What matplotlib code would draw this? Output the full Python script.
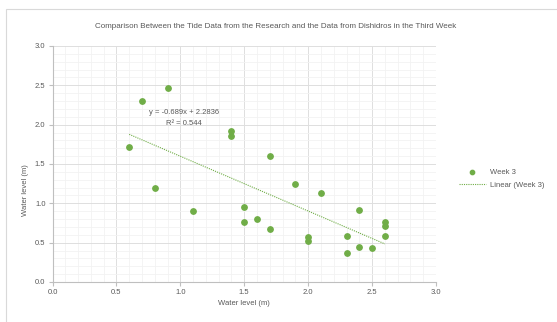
import matplotlib.pyplot as plt
import matplotlib.patches as patches
import numpy as np

plt.rcParams['font.family'] = ['Liberation Sans', 'DejaVu Sans']

x_week3 = [0.6, 0.7, 0.9, 0.8, 1.1, 1.4, 1.4, 1.5, 1.5, 1.6, 1.7, 1.7,
           1.9, 2.1, 2.0, 2.0, 2.3, 2.3, 2.4, 2.4, 2.5, 2.6, 2.6, 2.6]
y_week3 = [1.71, 2.30, 2.47, 1.20, 0.90, 1.92, 1.85, 0.95, 0.76, 0.80, 0.67, 1.60,
           1.25, 1.13, 0.57, 0.52, 0.59, 0.37, 0.92, 0.44, 0.43, 0.76, 0.71, 0.59]
eq_text = 'y = -0.689x + 2.2836'
r2_text = 'R² = 0.544'
title = ('Comparison Between the Tide Data from the Research and the Data '
         'from Dishidros in the Third Week')

green = '#70ad47'
text_gray = '#595959'

fig = plt.figure(figsize=(5.57, 3.22), dpi=100)
# chart area frame
fig.patches.append(patches.Rectangle((6 / 557, -0.05), 1.0, 1 - 9 / 322 + 0.05,
                                     transform=fig.transFigure, fill=False,
                                     edgecolor='#d9d9d9', linewidth=0.8))

ax = fig.add_axes([52.5 / 557, 40 / 322, 383.5 / 557, 236 / 322])
ax.set_xlim(0, 3)
ax.set_ylim(0, 3)
ax.set_xticks(np.arange(0, 3.01, 0.5))
ax.set_yticks(np.arange(0, 3.01, 0.5))
ax.set_xticks(np.arange(0, 3.01, 0.1), minor=True)
ax.set_yticks(np.arange(0, 3.01, 0.1), minor=True)
ax.set_xticklabels([f'{v:.1f}' for v in np.arange(0, 3.01, 0.5)])
ax.set_yticklabels([f'{v:.1f}' for v in np.arange(0, 3.01, 0.5)])
ax.grid(True, which='major', color='#dedede', linewidth=0.7)
ax.grid(True, which='minor', color='#f2f2f2', linewidth=0.6)
ax.set_axisbelow(True)
for side in ['top', 'right']:
    ax.spines[side].set_visible(False)
for side in ['left', 'bottom']:
    ax.spines[side].set_color('#bfbfbf')
    ax.spines[side].set_linewidth(0.8)
ax.tick_params(which='major', length=3, color='#bfbfbf', labelsize=5.5,
               labelcolor=text_gray, pad=2)
ax.tick_params(which='minor', length=0)

ax.scatter(x_week3, y_week3, s=15, color=green, zorder=3, label='Week 3')

# linear trendline
slope, intercept = np.polyfit(x_week3, y_week3, 1)
xs = np.array([min(x_week3), max(x_week3)])
ax.plot(xs, slope * xs + intercept, color=green, linewidth=0.8,
        linestyle=(0, (1, 1)), label='Linear (Week 3)')

ax.text(1.03, 2.15, eq_text, fontsize=5.5, color=text_gray, ha='center', va='center')
ax.text(1.03, 2.01, r2_text, fontsize=5.5, color=text_gray, ha='center', va='center')

fig.text(276 / 557, 1 - 26 / 322, title, fontsize=5.8, color=text_gray,
         ha='center', va='center')
ax.set_xlabel('Water level (m)', fontsize=5.5, color=text_gray, labelpad=3)
ax.set_ylabel('Water level (m)', fontsize=5.5, color=text_gray)
ax.yaxis.set_label_coords(-0.06, 0.39)

leg = ax.legend(loc='center left', bbox_to_anchor=(459 / 557, 1 - 178.5 / 322),
                bbox_transform=fig.transFigure, frameon=False, fontsize=5.5,
                handlelength=3.5, handletextpad=0.5, labelspacing=0.7,
                markerscale=0.8, borderaxespad=0, borderpad=0)
for t in leg.get_texts():
    t.set_color(text_gray)

plt.savefig('out.png', dpi=100)
